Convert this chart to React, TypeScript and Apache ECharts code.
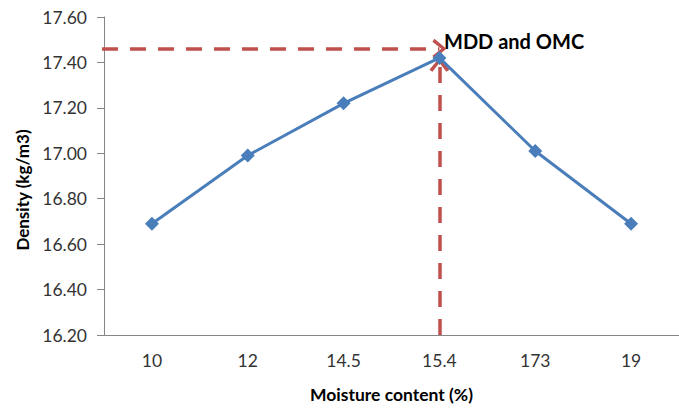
import React, { useEffect, useRef } from "react";
import * as echarts from "echarts";

const categories = ["10", "12", "14.5", "15.4", "173", "19"];
const densityValues = [16.69, 16.99, 17.22, 17.42, 17.01, 16.69];
const mddValue = 17.46;
const omcCategory = "15.4";
const arrowTipValue = 17.39;
const yMin = 16.2;
const yMax = 17.6;
const yStep = 0.2;

const chevron = "path://M0,12 L10,0 L20,12 L17,14 L10,5 L3,14 Z";

export default function App() {
  const ref = useRef<HTMLDivElement>(null);
  useEffect(() => {
    if (!ref.current) return;
    const chart = echarts.init(ref.current, undefined, { renderer: "svg" });
    const font = "Lato, 'Open Sans', sans-serif";
    const red = "#C0504D";
    chart.setOption({
      animation: false,
      textStyle: { fontFamily: font },
      grid: { left: 104, top: 17, width: 584, height: 320, containLabel: false },
      xAxis: {
        type: "category",
        data: categories,
        boundaryGap: true,
        name: "Moisture content (%)",
        nameLocation: "middle",
        nameGap: 50,
        nameTextStyle: { fontFamily: font, fontWeight: "bold", fontSize: 17.5, color: "#000" },
        axisLine: { lineStyle: { color: "#868686", width: 1 } },
        axisTick: { length: 6, lineStyle: { color: "#868686" } },
        axisLabel: { fontSize: 17.5, color: "#333", margin: 16, fontFamily: font },
        splitLine: { show: false },
      },
      yAxis: {
        type: "value",
        min: yMin,
        max: yMax,
        interval: yStep,
        axisLine: { show: true, lineStyle: { color: "#868686", width: 1 } },
        axisTick: { show: true, length: 7, lineStyle: { color: "#868686" } },
        axisLabel: {
          fontSize: 17.5,
          color: "#333",
          margin: 17,
          fontFamily: font,
          formatter: (v: number) => v.toFixed(2),
        },
        splitLine: { show: false },
      },
      graphic: [
        {
          type: "text",
          left: 14,
          top: 129,
          rotation: Math.PI / 2,
          style: {
            text: "Density (kg/m3)",
            fontFamily: font,
            fontWeight: "bold",
            fontSize: 17,
            fill: "#000",
          },
        },
        {
          type: "text",
          left: 444,
          top: 31,
          style: {
            text: "MDD and OMC",
            fontFamily: font,
            fontWeight: "bold",
            fontSize: 20,
            fill: "#000",
          },
        },
      ],
      series: [
        {
          type: "line",
          data: densityValues,
          symbol: "diamond",
          symbolSize: 14,
          lineStyle: { color: "#4A7EBB", width: 3 },
          itemStyle: { color: "#4A7EBB" },
          z: 3,
          markLine: {
            silent: true,
            symbol: ["none", chevron],
            symbolSize: [20, 14],
            label: { show: false },
            lineStyle: { color: red, width: 3.5, type: [16, 12] },
            z: 2,
            data: [
              [
                { x: 102, yAxis: mddValue },
                { coord: [omcCategory, mddValue] },
              ],
              [
                { coord: [omcCategory, yMin] },
                { coord: [omcCategory, arrowTipValue] },
              ],
            ],
          },
        },
      ],
    });
    return () => chart.dispose();
  }, []);
  return <div ref={ref} style={{ width: 679, height: 408, position: "absolute", left: 0, top: 0 }} />;
}
